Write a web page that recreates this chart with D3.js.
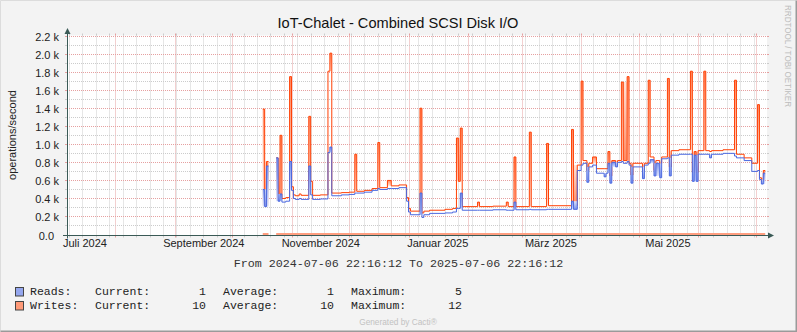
<!DOCTYPE html>
<html>
<head>
<meta charset="utf-8">
<script src="https://cdn.jsdelivr.net/npm/d3@7"></script>
<style>
body { margin: 0; background: #fff; }
svg text { font-family: "Liberation Sans", Arial, sans-serif; }
svg text.mono { font-family: "Liberation Mono", "Courier New", monospace; }
</style>
</head>
<body>
<div id="chart"></div>
<script>
// samples (step after: each value holds until the next date), k operations/second
var dates = ["2024-10-17","2024-10-18","2024-10-19","2024-10-20","2024-10-24","2024-10-25","2024-10-26","2024-10-27",
  "2024-10-29","2024-10-31","2024-11-01","2024-11-02","2024-11-03","2024-11-05","2024-11-06","2024-11-10",
  "2024-11-11","2024-11-12","2024-11-16","2024-11-20","2024-11-21","2024-11-22","2024-11-27","2024-12-01",
  "2024-12-04","2024-12-05","2024-12-09","2024-12-13","2024-12-16","2024-12-17","2024-12-21","2024-12-23",
  "2024-12-27","2024-12-31","2025-01-01","2025-01-02","2025-01-07","2025-01-08","2025-01-09","2025-01-12",
  "2025-01-20","2025-01-24","2025-01-26","2025-01-27","2025-01-28","2025-01-29","2025-02-06","2025-02-07",
  "2025-02-14","2025-02-21","2025-02-22","2025-02-25","2025-02-26","2025-03-05","2025-03-06","2025-03-14",
  "2025-03-15","2025-03-27","2025-03-28","2025-03-30","2025-04-01","2025-04-02","2025-04-04","2025-04-05",
  "2025-04-07","2025-04-09","2025-04-13","2025-04-14","2025-04-15","2025-04-16","2025-04-17","2025-04-19",
  "2025-04-20","2025-04-22","2025-04-23","2025-04-25","2025-04-26","2025-04-27","2025-04-28","2025-05-03",
  "2025-05-04","2025-05-06","2025-05-07","2025-05-09","2025-05-10","2025-05-12","2025-05-13","2025-05-16",
  "2025-05-17","2025-05-18","2025-05-22","2025-05-28","2025-05-29","2025-05-30","2025-05-31","2025-06-01",
  "2025-06-04","2025-06-05","2025-06-07","2025-06-08","2025-06-14","2025-06-20","2025-06-21","2025-06-25",
  "2025-06-29","2025-07-02","2025-07-03","2025-07-04","2025-07-05","2025-07-06"];

var writes = [1.40,0.33,0.82,null,0.86,0.39,1.11,0.41,
  0.42,1.76,0.54,0.45,0.44,0.46,0.445,1.32,
  0.60,0.445,0.45,1.82,2.02,0.47,0.475,0.48,
  0.90,0.49,0.50,0.52,1.03,0.53,0.61,0.55,
  0.56,0.42,0.30,0.27,1.41,0.25,0.27,0.28,
  0.29,0.30,1.08,0.60,1.19,0.32,0.37,0.32,
  0.325,0.37,0.32,0.87,0.32,1.145,0.32,1.02,
  0.33,1.175,0.33,0.78,1.71,0.83,0.72,0.80,
  0.87,0.74,0.74,0.74,0.93,0.66,0.83,0.78,
  0.83,1.70,0.83,1.76,0.80,0.67,0.80,0.72,
  0.80,1.72,0.87,0.72,0.83,0.80,0.87,1.74,
  0.76,0.94,0.95,1.82,0.70,0.93,0.70,0.94,
  1.82,0.94,0.93,0.94,0.95,1.72,0.90,0.86,
  0.80,1.45,0.64,0.60,0.72,null];

var reads = [0.51,0.32,0.77,null,0.86,0.38,0.46,0.37,
  0.38,0.82,0.50,0.41,0.40,0.41,0.40,0.77,
  0.45,0.40,0.405,0.92,0.98,0.44,0.45,0.455,
  0.47,0.47,0.48,0.50,0.52,0.51,0.52,0.52,
  0.53,0.38,0.26,0.23,0.47,0.20,0.23,0.245,
  0.25,0.26,0.30,0.30,0.47,0.28,0.28,0.28,
  0.285,0.28,0.28,0.37,0.285,0.29,0.285,0.29,
  0.29,0.38,0.29,0.72,0.78,0.80,0.59,0.76,
  0.78,0.69,0.65,0.69,0.80,0.58,0.81,0.76,
  0.81,0.82,0.80,0.82,0.78,0.58,0.76,0.63,
  0.78,0.80,0.84,0.66,0.80,0.64,0.85,0.86,
  0.66,0.89,0.90,0.90,0.60,0.89,0.60,0.90,
  0.90,0.90,0.86,0.90,0.91,0.88,0.86,0.83,
  0.71,0.72,0.62,0.57,0.69,null];

var yTicks = [0, 0.2, 0.4, 0.6, 0.8, 1.0, 1.2, 1.4, 1.6, 1.8, 2.0, 2.2];
var monthNames = ["Januar","Februar","März","April","Mai","Juni","Juli","August","September","Oktober","November","Dezember"];
var legendNames = ["Reads:", "Writes:"];
var legendCurrent = [1, 10];
var legendAverage = [1, 10];
var legendMaximum = [5, 12];

var W = 797, H = 332;
var X0 = 67, X1 = 767, Y0 = 235.5, Y1 = 35.5;
var tStart = new Date(Date.UTC(2024, 6, 6, 22, 16, 12));
var tEnd = new Date(Date.UTC(2025, 6, 6, 22, 16, 12));
var parse = d3.utcParse("%Y-%m-%d");
var times = dates.map(parse);

var x = d3.scaleUtc().domain([tStart, tEnd]).range([X0, X1]);
var y = d3.scaleLinear().domain([0, 2.2155]).range([Y0, Y1]);

var svg = d3.select("#chart").append("svg")
  .attr("width", W).attr("height", H);

// canvas and border
svg.append("rect").attr("width", W).attr("height", H).attr("fill", "#F3F3F3");
svg.append("path").attr("d", "M0.5," + (H - 0.5) + "V0.5H" + (W - 0.5))
  .attr("fill", "none").attr("stroke", "#DCDCDC");
svg.append("path").attr("d", "M0.5," + (H - 0.5) + "H" + (W - 0.5) + "V0.5")
  .attr("fill", "none").attr("stroke", "#9A9A9A").attr("stroke-width", 2);
svg.append("rect").attr("x", X0).attr("y", Y1).attr("width", X1 - X0).attr("height", Y0 - Y1)
  .attr("fill", "#FFFFFF");

var minorCol = "#CCCCCC", majorCol = "#E6A0A0";
var grid = svg.append("g");

function px(v) { return Math.round(v) + 0.5; }

// vertical grid: weeks (minor), months (major)
function vLines(list, col) {
  list.forEach(function (t) {
    var xx = px(x(t));
    grid.append("line").attr("x1", xx).attr("x2", xx).attr("y1", Y1).attr("y2", Y0)
      .attr("stroke", col).attr("stroke-dasharray", "1,1");
    grid.append("line").attr("x1", xx).attr("x2", xx).attr("y1", Y0).attr("y2", Y0 + 2).attr("stroke", col);
    grid.append("line").attr("x1", xx).attr("x2", xx).attr("y1", Y1 - 2).attr("y2", Y1).attr("stroke", col);
  });
}
vLines(d3.utcMonday.range(tStart, tEnd), minorCol);
vLines(d3.utcMonth.range(tStart, tEnd), majorCol);

// horizontal grid
function hLines(list, col) {
  list.forEach(function (v) {
    var yy = px(y(v)) - 1;
    grid.append("line").attr("x1", X0).attr("x2", X1).attr("y1", yy).attr("y2", yy)
      .attr("stroke", col).attr("stroke-dasharray", "1,1");
    grid.append("line").attr("x1", X0 - 2).attr("x2", X0).attr("y1", yy).attr("y2", yy).attr("stroke", col);
    grid.append("line").attr("x1", X1).attr("x2", X1 + 2).attr("y1", yy).attr("y2", yy).attr("stroke", col);
  });
}
hLines(y.ticks(22).filter(function (v) { return v > 0; }), minorCol);
hLines(yTicks.filter(function (v) { return v > 0; }), majorCol);

// y labels
var yAxis = svg.append("g").attr("transform", "translate(59,0)")
  .call(d3.axisLeft(y).tickValues(yTicks).tickSize(0).tickPadding(0)
    .tickFormat(function (d) { return d === 0 ? "0.0" : d3.format(".1f")(d) + " k"; }));
yAxis.select(".domain").remove();
yAxis.selectAll("text").attr("font-size", "11px").attr("fill", "#222")
  .attr("font-family", "Liberation Sans, Arial, sans-serif")
  .attr("dx", function (d) { return d === 0 ? -5 : 0; });

// x labels: every second month, centred mid-month
var labelDates = d3.utcMonth.range(d3.utcMonth.floor(tStart), tEnd)
  .filter(function (d, i) { return i % 2 === 0; })
  .map(function (d) { return d3.utcDay.offset(d, 15); })
  .filter(function (d) { return d < tEnd; });
var xAxis = svg.append("g").attr("transform", "translate(0," + 239 + ")")
  .call(d3.axisBottom(x).tickValues(labelDates).tickSize(0).tickPadding(0)
    .tickFormat(function (d) { return monthNames[d.getUTCMonth()] + " " + d.getUTCFullYear(); }));
xAxis.select(".domain").remove();
xAxis.selectAll("text").attr("font-size", "11px").attr("fill", "#222")
  .attr("font-family", "Liberation Sans, Arial, sans-serif");

// series helpers
var DAY = 864e5;
function stepPoints(vals) {
  var pts = [];
  for (var i = 0; i < times.length - 1; i++) {
    var v = vals[i];
    if (v == null) { pts.push(null); continue; }
    pts.push([times[i], v], [times[i + 1], v]);
  }
  return pts;
}
// short spikes/dips get a shaded column between the line and its neighbours
function columns(vals) {
  var out = [];
  for (var i = 0; i < times.length - 1; i++) {
    var v = vals[i];
    if (v == null || times[i + 1] - times[i] > 2.5 * DAY) continue;
    var nb = [i > 0 ? vals[i - 1] : null, vals[i + 1]].filter(function (d) { return d != null; });
    if (!nb.length) continue;
    var hi = d3.max(nb), lo = d3.min(nb);
    if (y(hi) - y(v) > 3) out.push({ t0: times[i], t1: times[i + 1], top: v, bot: hi, up: true });
    else if (y(v) - y(lo) > 3) out.push({ t0: times[i], t1: times[i + 1], top: lo, bot: v, up: false });
  }
  return out;
}

var defs = svg.append("defs");
function grad(id, c1, c2) {
  var g = defs.append("linearGradient").attr("id", id).attr("x1", 0).attr("x2", 0).attr("y1", 0).attr("y2", 1);
  g.append("stop").attr("offset", 0).attr("stop-color", c1);
  g.append("stop").attr("offset", 1).attr("stop-color", c2);
}
grad("wUp", "#FF8A62", "#FFE2D8");
grad("wDown", "#FFE2D8", "#FF8A62");
grad("rUp", "#7A92EC", "#DCE2FA");
grad("rDown", "#DCE2FA", "#7A92EC");

var line = d3.line().defined(function (d) { return d != null; })
  .x(function (d) { return x(d[0]); }).y(function (d) { return y(d[1]); });

var plot = svg.append("g");

// thin band at zero where samples exist
plot.append("path").datum(stepPoints(writes))
  .attr("d", d3.line().defined(function (d) { return d != null; })
    .x(function (d) { return x(d[0]); }).y(function () { return y(0) - 1.5; }))
  .attr("fill", "none").attr("stroke", "#FF9E80").attr("stroke-width", 2);

function drawSeries(vals, col, key) {
  plot.append("g").selectAll("rect").data(columns(vals)).enter().append("rect")
    .attr("x", function (d) { return x(d.t0); })
    .attr("width", function (d) { return x(d.t1) - x(d.t0); })
    .attr("y", function (d) { return y(d.top); })
    .attr("height", function (d) { return y(d.bot) - y(d.top); })
    .attr("fill", function (d) { return "url(#" + key + (d.up ? "Up" : "Down") + ")"; });
  plot.append("path").datum(stepPoints(vals)).attr("d", line)
    .attr("fill", "none").attr("stroke", col).attr("stroke-width", 1);
}
drawSeries(writes, "#FF4105", "w");
drawSeries(reads, "#4A68E0", "r");

// axes with arrows
var axisCol = "#3A5A56";
svg.append("line").attr("x1", 63).attr("x2", 769).attr("y1", Y0).attr("y2", Y0).attr("stroke", axisCol);
svg.append("line").attr("x1", X0 + 0.5).attr("x2", X0 + 0.5).attr("y1", Y0 + 3).attr("y2", 32).attr("stroke", axisCol);
svg.append("path").attr("d", "M768," + (Y0 - 3) + "L774," + Y0 + "L768," + (Y0 + 3) + "Z").attr("fill", axisCol);
svg.append("path").attr("d", "M" + (X0 - 2.5) + ",34L" + (X0 + 0.5) + ",28L" + (X0 + 3.5) + ",34Z").attr("fill", axisCol);

// texts
svg.append("text").attr("x", 398).attr("y", 28).attr("text-anchor", "middle")
  .attr("font-size", "14.6px").attr("fill", "#111").text("IoT-Chalet - Combined SCSI Disk I/O");
svg.append("text").attr("transform", "translate(15.5,135) rotate(-90)").attr("text-anchor", "middle")
  .attr("font-size", "11px").attr("fill", "#222").text("operations/second");
svg.append("text").attr("transform", "translate(785,5) rotate(90)")
  .attr("font-size", "9.5px").attr("fill", "#BDBDBD")
  .attr("textLength", 102).attr("lengthAdjust", "spacingAndGlyphs")
  .text("RRDTOOL / TOBI OETIKER");
svg.append("text").attr("class", "mono").attr("x", 398.5).attr("y", 267).attr("text-anchor", "middle")
  .attr("font-size", "11.7px").attr("fill", "#333")
  .text("From " + d3.utcFormat("%Y-%m-%d %H:%M:%S")(tStart) + " To " + d3.utcFormat("%Y-%m-%d %H:%M:%S")(tEnd));

var boxCols = ["#94A6EE", "#FF9A78"];
legendNames.forEach(function (name, i) {
  var by = 295 + i * 14;
  svg.append("rect").attr("x", 15.5).attr("y", by - 7.5).attr("width", 8).attr("height", 8.5)
    .attr("fill", boxCols[i]).attr("stroke", "#444");
  var g = svg.append("g").attr("font-size", "11.5px").attr("fill", "#222");
  function t(xx, s, anchor) {
    g.append("text").attr("class", "mono").attr("x", xx).attr("y", by)
      .attr("text-anchor", anchor || "start").text(s);
  }
  t(30, name);
  t(95, "Current:");
  t(206, legendCurrent[i], "end");
  t(223, "Average:");
  t(334, legendAverage[i], "end");
  t(351, "Maximum:");
  t(462, legendMaximum[i], "end");
});

svg.append("text").attr("x", 398).attr("y", 325).attr("text-anchor", "middle")
  .attr("font-size", "8.3px").attr("fill", "#C2C2C2").text("Generated by Cacti®");
</script>
</body>
</html>
